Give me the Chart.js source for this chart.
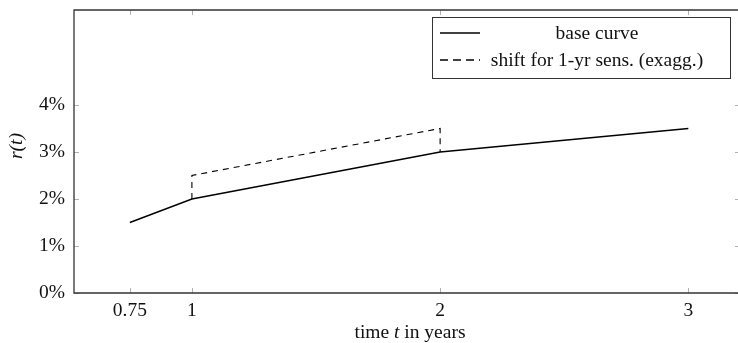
<!DOCTYPE html>
<html>
<head>
<meta charset="utf-8">
<script src="https://cdn.jsdelivr.net/npm/chart.js@4"></script>
<style>
  html, body { margin: 0; padding: 0; background: #fff; overflow: hidden; }
  #wrap { width: 738px; height: 343px; }
</style>
</head>
<body>
<div id="wrap"><canvas id="myChart" width="738" height="343"></canvas></div>
<script>
// data
var baseT = [0.75, 1, 2, 3];
var baseR = [1.5, 2, 3, 3.5];
var shiftT = [1, 1, 2, 2];
var shiftR = [2, 2.5, 3.5, 3];
var xTicks = [0.75, 1, 2, 3];
var yTicks = [0, 1, 2, 3, 4];
var labels = ["base curve", "shift for 1-yr sens. (exagg.)"];

var serif = "'Liberation Serif', 'DejaVu Serif', serif";
var fs = 19.5;

function pts(xs, ys) {
  var out = [];
  for (var i = 0; i < xs.length; i++) out.push({x: xs[i], y: ys[i]});
  return out;
}

// frame, inside ticks, legend and axis titles
var decor = {
  id: 'decor',
  afterDraw: function(chart) {
    var c = chart.ctx, a = chart.chartArea;
    var xs = chart.scales.x, ys = chart.scales.y;
    c.save();
    // grey inner ticks
    c.strokeStyle = '#b0b0b0';
    c.lineWidth = 1;
    xTicks.forEach(function(v) {
      var px = Math.round(xs.getPixelForValue(v)) + 0.5;
      c.beginPath();
      c.moveTo(px, a.bottom); c.lineTo(px, a.bottom - 5);
      c.moveTo(px, a.top); c.lineTo(px, a.top + 5);
      c.stroke();
    });
    yTicks.forEach(function(v) {
      var py = Math.round(ys.getPixelForValue(v)) + 0.5;
      c.beginPath();
      c.moveTo(a.left, py); c.lineTo(a.left + 5, py);
      c.moveTo(a.right + 2, py); c.lineTo(a.right - 3, py);
      c.stroke();
    });
    // frame: right side falls outside the picture
    c.strokeStyle = '#333';
    c.lineWidth = 1.3;
    c.beginPath();
    c.moveTo(a.right + 2, a.top);
    c.lineTo(a.left, a.top);
    c.lineTo(a.left, a.bottom);
    c.lineTo(a.right + 2, a.bottom);
    c.stroke();

    // legend
    var lx = 432.5, ly = 17.5, lw = 298, lh = 61;
    c.fillStyle = '#fff';
    c.fillRect(lx, ly, lw, lh);
    c.strokeStyle = '#333';
    c.lineWidth = 1;
    c.strokeRect(lx, ly, lw, lh);
    var rows = [33, 60];
    c.strokeStyle = '#000';
    c.lineWidth = 1.3;
    for (var i = 0; i < 2; i++) {
      c.setLineDash(i === 0 ? [] : [8, 5]);
      c.beginPath();
      c.moveTo(440, rows[i]); c.lineTo(480, rows[i]);
      c.stroke();
    }
    c.setLineDash([]);
    c.fillStyle = '#111';
    c.font = fs + 'px ' + serif;
    c.textAlign = 'center';
    c.textBaseline = 'middle';
    c.fillText(labels[0], 597, rows[0] + 1);
    c.fillText(labels[1], 597, rows[1] + 1);

    // x title with italic t
    var y0 = 333;
    var p1 = 'time ', p2 = 't', p3 = ' in years';
    c.font = fs + 'px ' + serif;
    var w1 = c.measureText(p1).width, w3 = c.measureText(p3).width;
    c.font = 'italic ' + fs + 'px ' + serif;
    var w2 = c.measureText(p2).width;
    var x0 = 410 - (w1 + w2 + w3) / 2;
    c.textAlign = 'left';
    c.font = fs + 'px ' + serif;
    c.fillText(p1, x0, y0);
    c.font = 'italic ' + fs + 'px ' + serif;
    c.fillText(p2, x0 + w1, y0);
    c.font = fs + 'px ' + serif;
    c.fillText(p3, x0 + w1 + w2, y0);

    // y title
    c.translate(17, 146);
    c.rotate(-Math.PI / 2);
    c.textAlign = 'center';
    c.font = 'italic ' + fs + 'px ' + serif;
    c.fillText('r(t)', 0, 0);
    c.restore();
  }
};

new Chart(document.getElementById('myChart'), {
  type: 'line',
  data: {
    datasets: [{
      label: labels[0],
      data: pts(baseT, baseR),
      borderColor: '#000',
      borderWidth: 1.4,
      pointRadius: 0,
      tension: 0
    }, {
      label: labels[1],
      data: pts(shiftT, shiftR),
      borderColor: '#000',
      borderWidth: 1.1,
      borderDash: [6, 5],
      pointRadius: 0,
      tension: 0
    }]
  },
  options: {
    responsive: false,
    animation: false,
    layout: { padding: { top: 10, right: 0, left: 0, bottom: 0 } },
    plugins: { legend: { display: false }, tooltip: { enabled: false } },
    scales: {
      x: {
        type: 'linear',
        min: 0.525,
        max: 3.2,
        afterBuildTicks: function(s) { s.ticks = xTicks.map(function(v) { return {value: v}; }); },
        afterFit: function(s) { s.height = 50; s.paddingLeft = 0; s.paddingRight = 0; },
        grid: { display: false, drawTicks: false },
        border: { display: false },
        ticks: {
          padding: 6,
          color: '#111',
          font: { family: serif, size: fs },
          callback: function(v) { return String(v); }
        }
      },
      y: {
        min: 0,
        max: 6.02,
        afterBuildTicks: function(s) { s.ticks = yTicks.map(function(v) { return {value: v}; }); },
        afterFit: function(s) { s.width = 74; s.paddingTop = 0; s.paddingBottom = 0; },
        grid: { display: false, drawTicks: false },
        border: { display: false },
        ticks: {
          padding: 9,
          color: '#111',
          font: { family: serif, size: fs },
          callback: function(v) { return v + '%'; }
        }
      }
    }
  },
  plugins: [decor]
});
</script>
</body>
</html>
